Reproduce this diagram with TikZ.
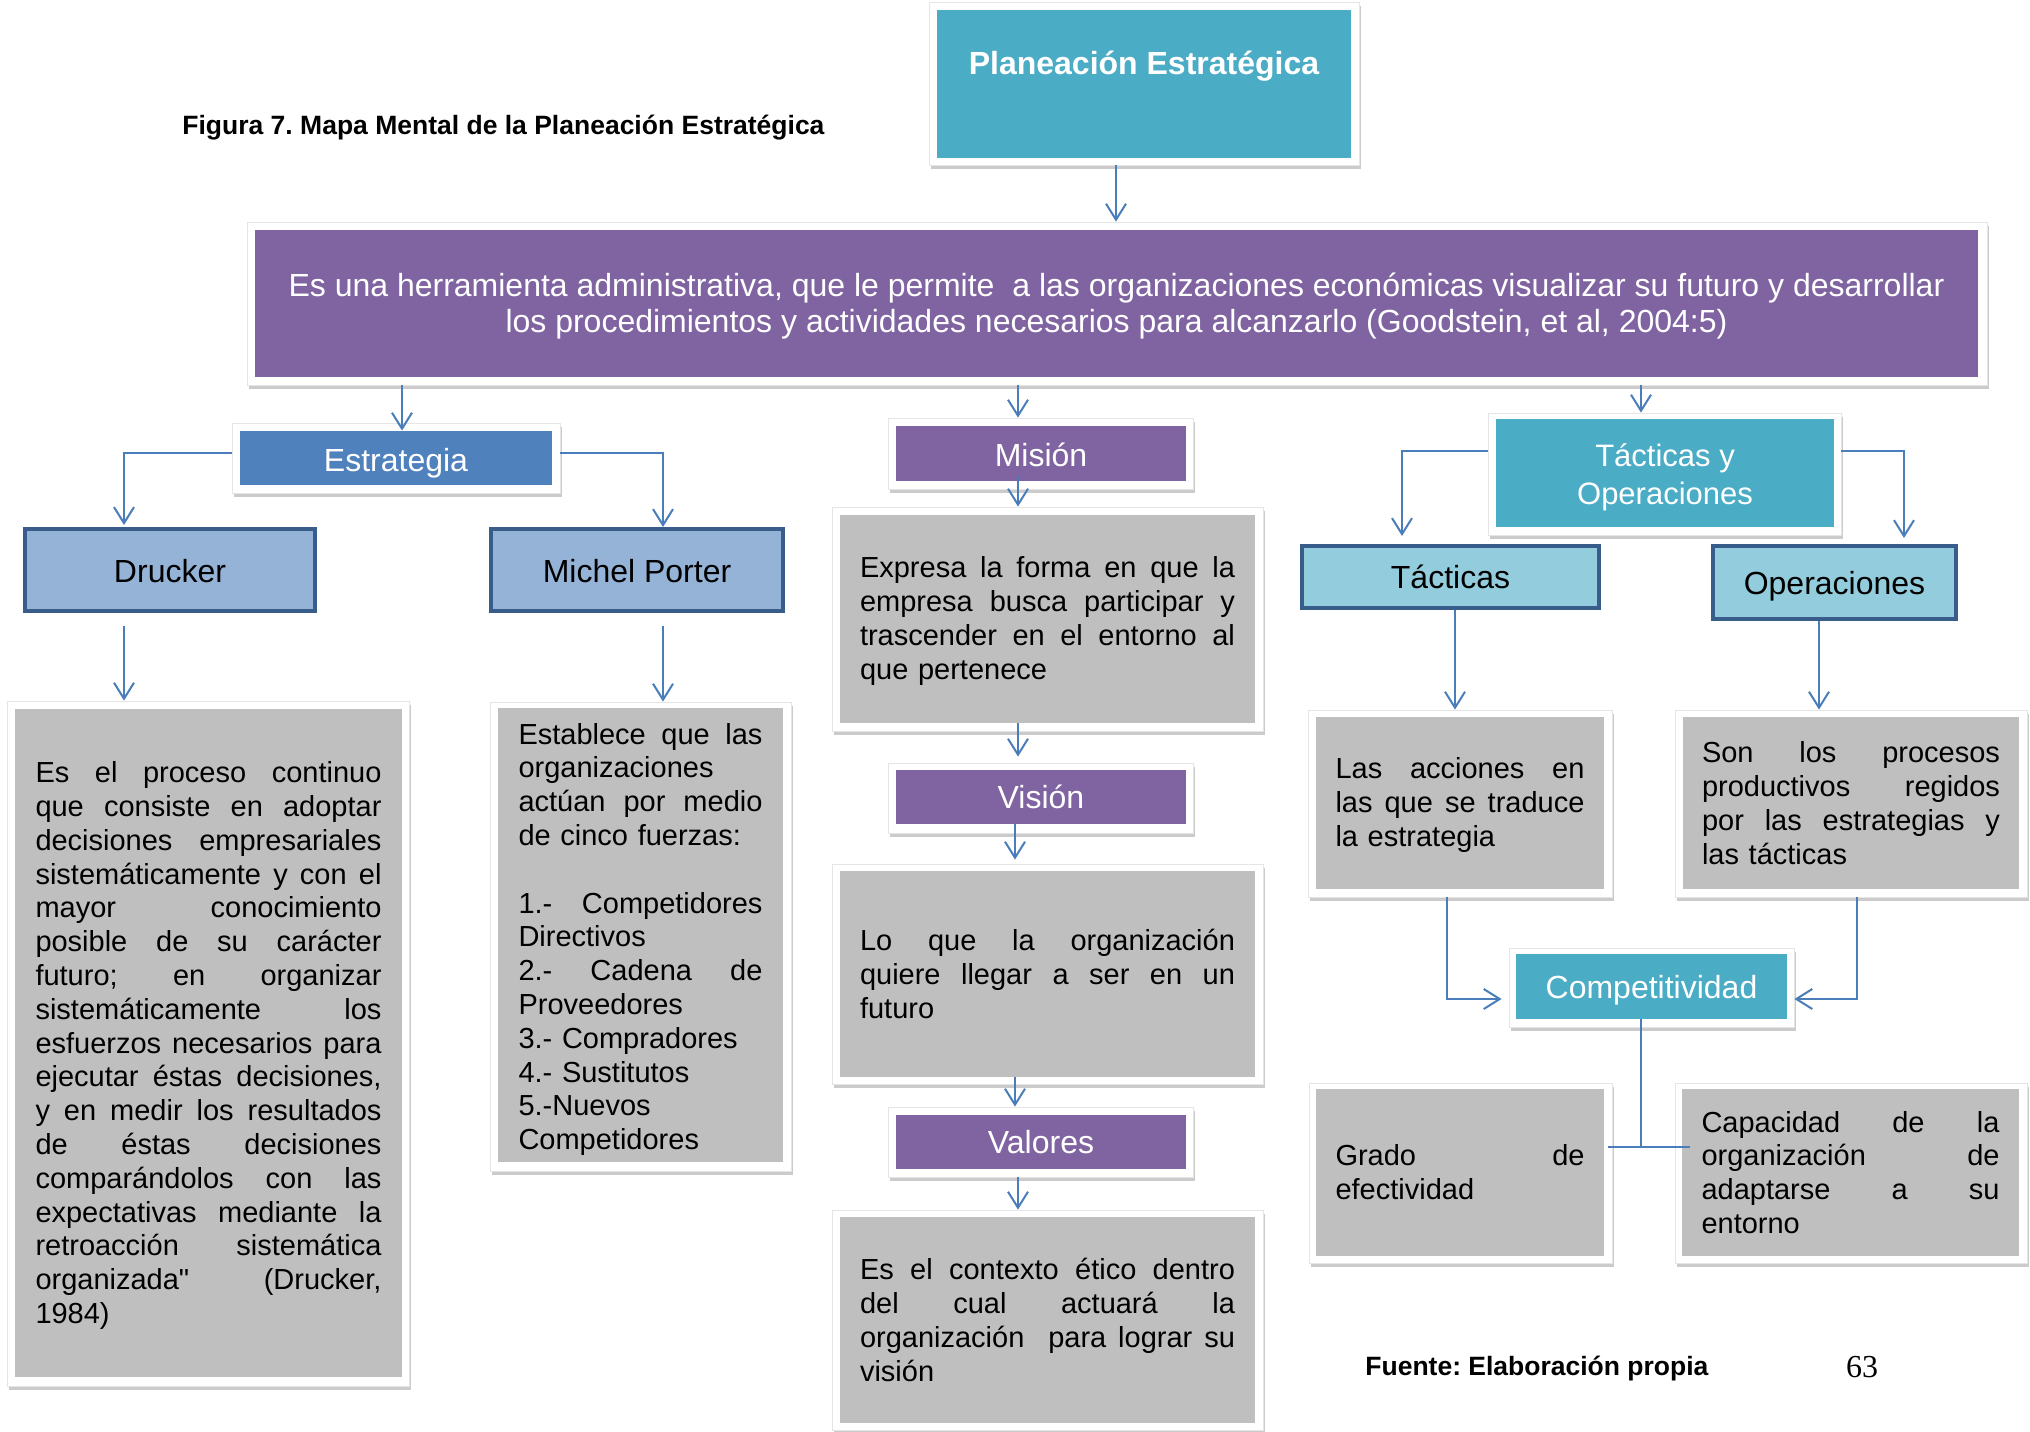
\documentclass[tikz,border=0pt]{standalone}
\usepackage{fontspec}
\setmainfont{Liberation Sans}
\newfontfamily\numfont{Liberation Serif}
\usetikzlibrary{arrows.meta,shadows,fit}
\definecolor{teal1}{HTML}{4BACC6}
\definecolor{purp}{HTML}{8064A2}
\definecolor{blue1}{HTML}{4F81BD}
\definecolor{lblue}{HTML}{95B3D7}
\definecolor{dblue}{HTML}{385D8A}
\definecolor{lteal}{HTML}{93CDDD}
\definecolor{grey1}{HTML}{BFBFBF}
\definecolor{cblue}{HTML}{4A7EBB}
\frenchspacing
\newcommand\bodyfont{\fontsize{14.5pt}{16.9pt}\selectfont\frenchspacing}
\newcommand\labfont{\fontsize{16pt}{19pt}\selectfont}
\newcommand\jline[1]{\hbox to \hsize{\spaceskip=0.278em plus 1fil minus 0.03em\relax #1}}
\newcommand\lline[1]{\hbox to \hsize{#1\hfil}}
\begin{document}
\begin{tikzpicture}[x=0.5pt,y=-0.5pt,
  wframe/.style={fill=white, draw=black!10, line width=0.4pt, inner sep=0pt,
    drop shadow={shadow xshift=1pt, shadow yshift=-2pt, fill=black!45, opacity=0.45}},
  inbox/.style={inner sep=0pt, draw=none},
  bordbox/.style={inner sep=0pt, draw=dblue, line width=2pt},
  lab/.style={font=\labfont, inner sep=0pt},
  body/.style={font=\bodyfont, inner sep=0pt, text=black},
  conn/.style={draw=cblue, line width=1pt},
  arr/.style={conn, -{Straight Barb[length=8pt,width=10pt]}},
]
\fill[white] (0,0) rectangle (2030,1431);
\useasboundingbox (0,0) rectangle (2030,1431);

% white frames
\node[wframe, fit={(929,2)(1359,165)}] (planF) {};
\node[wframe, fit={(247,222)(1987,385)}] (purF) {};
\node[wframe, fit={(232,423)(560,493)}] (estrF) {};
\node[wframe, fit={(888,418)(1193,489)}] (misF) {};
\node[wframe, fit={(832,507)(1263,731)}] (expF) {};
\node[wframe, fit={(888,763)(1193,833)}] (visF) {};
\node[wframe, fit={(832,864)(1263,1084)}] (loF) {};
\node[wframe, fit={(888,1107)(1193,1177)}] (valF) {};
\node[wframe, fit={(832,1210)(1263,1430)}] (ctxF) {};
\node[wframe, fit={(1488,413)(1841,535)}] (tyoF) {};
\node[wframe, fit={(7,701)(409,1386)}] (drF) {};
\node[wframe, fit={(490,702)(791,1171)}] (poF) {};
\node[wframe, fit={(1308,710)(1612,897)}] (accF) {};
\node[wframe, fit={(1675,710)(2027,897)}] (sonF) {};
\node[wframe, fit={(1509,948)(1794,1027)}] (compF) {};
\node[wframe, fit={(1309,1083)(1612,1263)}] (grF) {};
\node[wframe, fit={(1675,1083)(2027,1263)}] (capF) {};

% coloured boxes
\node[inbox, fill=teal1, fit={(937,10)(1351,158)}] (plan) {};
\node[inbox, fill=purp, fit={(255,230)(1978,377)}] (pur) {};
\node[inbox, fill=blue1, fit={(240,431)(552,485)}] (estr) {};
\node[inbox, fill=purp, fit={(896,426)(1186,481)}] (mis) {};
\node[inbox, fill=grey1, fit={(840,515)(1255,723)}] (exp) {};
\node[inbox, fill=purp, fit={(896,770)(1186,824)}] (vis) {};
\node[inbox, fill=grey1, fit={(840,871)(1255,1077)}] (lo) {};
\node[inbox, fill=purp, fit={(896,1115)(1186,1169)}] (val) {};
\node[inbox, fill=grey1, fit={(840,1217)(1255,1423)}] (ctx) {};
\node[inbox, fill=teal1, fit={(1496,419)(1834,527)}] (tyo) {};
\node[inbox, fill=grey1, fit={(15,709)(402,1377)}] (dr) {};
\node[inbox, fill=grey1, fit={(498,708)(783,1162)}] (po) {};
\node[inbox, fill=grey1, fit={(1316,717)(1604,889)}] (acc) {};
\node[inbox, fill=grey1, fit={(1683,717)(2019,889)}] (son) {};
\node[inbox, fill=teal1, fit={(1516,954)(1787,1019)}] (comp) {};
\node[inbox, fill=grey1, fit={(1316,1089)(1604,1256)}] (gr) {};
\node[inbox, fill=grey1, fit={(1682,1089)(2019,1256)}] (cap) {};
\node[bordbox, fill=lblue, fit={(25,529)(315,611)}] (druck) {};
\node[bordbox, fill=lblue, fit={(491,529)(783,611)}] (porter) {};
\node[bordbox, fill=lteal, fit={(1302,546)(1599,608)}] (tac) {};
\node[bordbox, fill=lteal, fit={(1713,546)(1956,619)}] (ops) {};

% labels
\node[lab, font=\bfseries\labfont, text=white] (planT) at (1144,66) {Planeación Estratégica};
\node[lab, text=white, align=center, font=\fontsize{16pt}{18pt}\selectfont, yshift=-1.3pt] (purT) at (pur)
  {Es una herramienta administrativa, que le permite \ a las organizaciones económicas visualizar su futuro y desarrollar\\los procedimientos y actividades necesarios para alcanzarlo (Goodstein, et al, 2004:5)};
\node[lab, text=white, yshift=-2.5pt] (estrT) at (estr) {Estrategia};
\node[lab, yshift=-0.5pt] (druckT) at (druck) {Drucker};
\node[lab, yshift=-0.5pt] (porterT) at (porter) {Michel Porter};
\node[lab, text=white, yshift=-0.5pt] (misT) at (mis) {Misión};
\node[lab, text=white] (visT) at (vis) {Visión};
\node[lab, text=white] (valT) at (val) {Valores};
\node[lab, text=white, align=center, font=\fontsize{15.5pt}{19pt}\selectfont, yshift=-2pt] (tyoT) at (tyo) {Tácticas y\\Operaciones};
\node[lab] (tacT) at (tac) {Tácticas};
\node[lab, yshift=-2pt] (opsT) at (ops) {Operaciones};
\node[lab, text=white, yshift=-2pt] (compT) at (comp) {Competitividad};

% body texts
\node[body, text width=173pt, yshift=-1.3pt] (drT) at (dr) {%
\jline{Es el proceso continuo}
\jline{que consiste en adoptar}
\jline{decisiones empresariales}
\jline{sistemáticamente y con el}
\jline{mayor conocimiento}
\jline{posible de su carácter}
\jline{futuro; en organizar}
\jline{sistemáticamente los}
\jline{esfuerzos necesarios para}
\jline{ejecutar éstas decisiones,}
\jline{y en medir los resultados}
\jline{de éstas decisiones}
\jline{comparándolos con las}
\jline{expectativas mediante la}
\jline{retroacción sistemática}
\jline{organizada\textquotedbl{} (Drucker,}
\lline{1984)}};
\node[body, text width=122pt, yshift=-2.2pt] (poT) at (po) {%
\jline{Establece que las}
\lline{organizaciones}
\jline{actúan por medio}
\lline{de cinco fuerzas:}
\lline{\strut}
\jline{1.- Competidores}
\lline{Directivos}
\jline{2.- Cadena de}
\lline{Proveedores}
\lline{3.- Compradores}
\lline{4.- Sustitutos}
\lline{5.-Nuevos}
\lline{Competidores}};
\node[body, text width=187.5pt, yshift=-1pt] (expT) at (exp) {%
\jline{Expresa la forma en que la}
\jline{empresa busca participar y}
\jline{trascender en el entorno al}
\lline{que pertenece}};
\node[body, text width=187.5pt] (loT) at (lo) {%
\jline{Lo que la organización}
\jline{quiere llegar a ser en un}
\lline{futuro}};
\node[body, text width=187.5pt] (ctxT) at (ctx) {%
\jline{Es el contexto ético dentro}
\jline{del cual actuará la}
\jline{organización\ \ para lograr su}
\lline{visión}};
\node[body, text width=124.5pt, yshift=-1pt] (accT) at (acc) {%
\jline{Las acciones en}
\jline{las que se traduce}
\lline{la estrategia}};
\node[body, text width=149pt] (sonT) at (son) {%
\jline{Son los procesos}
\jline{productivos regidos}
\jline{por las estrategias y}
\lline{las tácticas}};
\node[body, text width=124.5pt] (grT) at (gr) {%
\jline{Grado de}
\lline{efectividad}};
\node[body, text width=149pt] (capT) at (cap) {%
\jline{Capacidad de la}
\jline{organización de}
\jline{adaptarse a su}
\lline{entorno}};

% captions
\node[anchor=west, inner sep=0pt, font=\bfseries\fontsize{13.25pt}{15pt}\selectfont] (title) at (182,128)
  {Figura 7. Mapa Mental de la Planeación Estratégica};
\node[anchor=west, inner sep=0pt, font=\bfseries\fontsize{13.25pt}{15pt}\selectfont] (fuente) at (1365,1369)
  {Fuente: Elaboración propia};
\node[inner sep=0pt, font=\numfont\fontsize{16pt}{18pt}\selectfont] (pnum) at (1862,1367) {63};

% connector coordinates
\coordinate (xa) at (1116,0);
\coordinate (xb) at (402,0);
\coordinate (xc) at (1018,0);
\coordinate (xd) at (1641,0);
\coordinate (xe) at (1015,0);
\coordinate (xf) at (1455,0);
\coordinate (xg) at (1819,0);
\coordinate (ka) at (124,453);
\coordinate (kb) at (663,453);
\coordinate (kc) at (1402,451);
\coordinate (kd) at (1904,451);
\coordinate (ke) at (1447,999);
\coordinate (kf) at (1857,999);
\coordinate (kg) at (1641,1147);

% connectors
\draw[arr] (planF.south -| xa) -- (purF.north -| xa);
\draw[arr] (purF.south -| xb) -- (estr.north -| xb);
\draw[arr] (purF.south -| xc) -- (misF.north -| xc);
\draw[arr] (purF.south -| xd) -- (tyoF.north -| xd);
\draw[arr, shorten >=1pt] (estrF.west |- ka) -| (druck.north -| ka);
\draw[arr, shorten >=0pt] (estrF.east |- kb) -| (porter.north -| kb);
\draw[arr, shorten <=6.5pt] (druck.south -| ka) -- (drF.north -| ka);
\draw[arr, shorten <=6.5pt] (porter.south -| kb) -- (poF.north -| kb);
\draw[arr, shorten <=-2.5pt] (mis.south -| xc) -- (expF.north -| xc);
\draw[arr, shorten >=3pt] (exp.south -| xc) -- (visF.north -| xc);
\draw[arr, shorten >=2pt] (vis.south -| xe) -- (loF.north -| xe);
\draw[arr] (lo.south -| xe) -- (valF.north -| xe);
\draw[arr] (valF.south -| xc) -- (ctxF.north -| xc);
\draw[arr, shorten >=4pt] (tyoF.west |- kc) -| (tac.north -| kc);
\draw[arr, shorten >=3pt] (tyoF.east |- kd) -| (ops.north -| kd);
\draw[arr] (tac.south -| xf) -- (accF.north -| xf);
\draw[arr] (ops.south -| xg) -- (sonF.north -| xg);
\draw[arr, shorten >=3.5pt] (accF.south -| ke) |- (compF.west |- ke);
\draw[arr] (sonF.south -| kf) |- (compF.east |- kf);
\draw[conn] (comp.south -| kg) -- (kg);
\draw[conn, shorten <=-2pt, shorten >=-7.5pt] (grF.east |- kg) -- (capF.west |- kg);
\end{tikzpicture}
\end{document}
